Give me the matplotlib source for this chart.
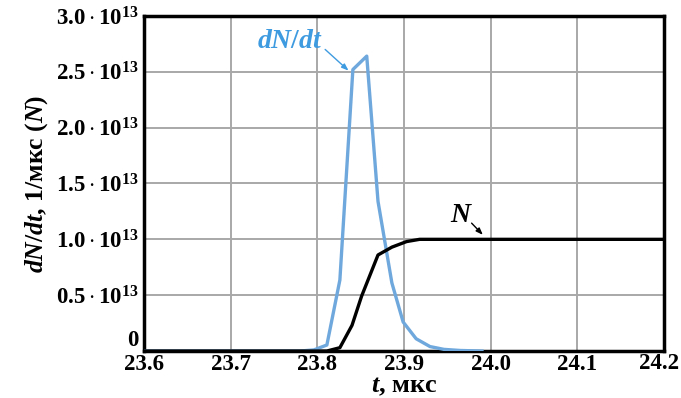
import matplotlib
matplotlib.use("Agg")
import matplotlib.pyplot as plt

plt.rcParams['mathtext.fontset'] = 'custom'
plt.rcParams['mathtext.rm'] = 'Liberation Serif:bold'
plt.rcParams['mathtext.bf'] = 'Liberation Serif:bold'
plt.rcParams['mathtext.it'] = 'Liberation Serif:bold:italic'
plt.rcParams['font.family'] = ['Liberation Serif', 'DejaVu Serif']

# dN/dt (blue), units 1e13
t_rate = [23.60, 23.78, 23.796, 23.811, 23.826, 23.841, 23.857, 23.870, 23.886,
          23.899, 23.914, 23.930, 23.946, 23.965, 23.99]
rate = [0.0, 0.0, 0.01, 0.054, 0.636, 2.52, 2.64, 1.34, 0.61, 0.26, 0.11, 0.04,
        0.015, 0.005, 0.0]

# N (black), units 1e13
t_N = [23.60, 23.811, 23.826, 23.840, 23.851, 23.870, 23.886, 23.903, 23.918, 24.20]
N = [0.0, 0.0, 0.03, 0.23, 0.49, 0.86, 0.93, 0.98, 1.0, 1.0]

xticks = [23.6, 23.7, 23.8, 23.9, 24.0, 24.1, 24.2]
yticks = [0, 0.5, 1.0, 1.5, 2.0, 2.5, 3.0]
ylabels = ['0'] + [r'$%.1f\cdot10^{13}$' % v for v in yticks[1:]]

fig = plt.figure(figsize=(6.81, 3.98), dpi=100)
ax = fig.add_axes([0.2115, 0.118, 0.7635, 0.842])

scale = 1e13
ax.plot(t_rate, [v * scale for v in rate], color='#6fa8dc', lw=2.4, zorder=3)
ax.plot(t_N, [v * scale for v in N], color='black', lw=2.4, zorder=4)

ax.set_xlim(23.6, 24.2)
ax.set_ylim(0, 3.0 * scale)
ax.set_xticks(xticks)
xt_labels = ['%.1f' % v for v in xticks]
ax.set_xticklabels(xt_labels[:-1] + [''], fontsize=16.5, fontweight='bold')
# last label nudged left so it stays inside the figure edge
ax.annotate(xt_labels[-1], xy=(xticks[-1], 0), xycoords=('data', 'axes fraction'),
            xytext=(-3.5, -1.5), textcoords='offset points', ha='center', va='top',
            fontsize=16.5, fontweight='bold')
ax.set_yticks([v * scale for v in yticks])
ax.set_yticklabels(ylabels, fontsize=16.5, fontweight='bold')
ax.get_yticklabels()[0].set_va('bottom')
ax.tick_params(axis='x', length=0, pad=2)
ax.tick_params(axis='y', length=0, pad=4)
ax.grid(True, color='#a8a8a8', lw=1.4)
ax.set_axisbelow(True)
for s in ax.spines.values():
    s.set_linewidth(2.5)

ax.set_xlabel(r'$t$, мкс', fontsize=19, fontweight='bold', labelpad=0)
ax.set_ylabel(r'$dN/dt$, 1/мкс ($N$)', fontsize=18.5, fontweight='bold', labelpad=4)

blue_txt = '#3f9be0'
ax.text(23.768, 2.77 * scale, r'$dN/dt$', color=blue_txt, fontsize=20,
        ha='center', va='center')
ax.annotate('', xy=(23.836, 2.51 * scale), xytext=(23.809, 2.70 * scale),
            arrowprops=dict(arrowstyle='-|>,head_length=0.4,head_width=0.15',
                            color=blue_txt, lw=1.0, shrinkA=0, shrinkB=0))
ax.text(23.966, 1.21 * scale, r'$N$', color='black', fontsize=20,
        ha='center', va='center')
ax.annotate('', xy=(23.991, 1.04 * scale), xytext=(23.978, 1.145 * scale),
            arrowprops=dict(arrowstyle='-|>,head_length=0.4,head_width=0.15',
                            color='black', lw=1.0, shrinkA=0, shrinkB=0))

fig.savefig('out.png', dpi=100)
